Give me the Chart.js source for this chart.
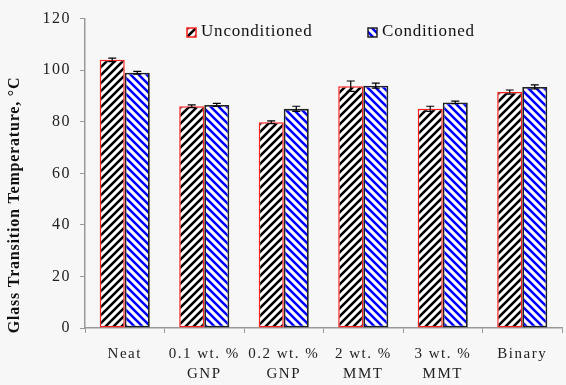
<!DOCTYPE html>
<html>
<head>
<meta charset="utf-8">
<script src="https://cdn.jsdelivr.net/npm/chart.js@4"></script>
<style>
  html, body { margin: 0; padding: 0; background: #f7f7f7; }
  #wrap { width: 566px; height: 385px; position: relative; }
</style>
</head>
<body>
<div id="wrap"><canvas id="tgChart"></canvas></div>
<script>
// Chart data
const categories = [['Neat'], ['0.1 wt. %', 'GNP'], ['0.2 wt. %', 'GNP'], ['2 wt. %', 'MMT'], ['3 wt. %', 'MMT'], ['Binary']];
const unconditioned = [104, 86, 79.8, 93.8, 85, 91.5];
const conditioned = [99, 86.5, 85, 94, 87.5, 93.5];
const unconditionedErr = [0.7, 0.5, 0.5, 2, 1, 0.8];
const conditionedErr = [0.5, 0.6, 1, 1, 0.5, 0.8];
const yTicks = [0, 20, 40, 60, 80, 100, 120];
const yTitle = 'Glass Transition Temperature, °C';

const serif = '"Liberation Serif", "Times New Roman", serif';

// Diagonal hatch pattern; dir 1 = "/", dir -1 = "\"
function makeHatch(color, dir) {
    const size = 8;
    const c = document.createElement('canvas');
    c.width = size; c.height = size;
    const g = c.getContext('2d');
    g.fillStyle = '#ffffff';
    g.fillRect(0, 0, size, size);
    g.strokeStyle = color;
    g.lineWidth = 2.6;
    g.beginPath();
    if (dir > 0) {
        g.moveTo(-2, size + 2); g.lineTo(size + 2, -2);
        g.moveTo(-2, 2); g.lineTo(2, -2);
        g.moveTo(size - 2, size + 2); g.lineTo(size + 2, size - 2);
    } else {
        g.moveTo(-2, -2); g.lineTo(size + 2, size + 2);
        g.moveTo(size - 2, -2); g.lineTo(size + 2, 2);
        g.moveTo(-2, size - 2); g.lineTo(2, size + 2);
    }
    g.stroke();
    return g.createPattern(c, 'repeat');
}

// wider glyph spacing like the original rendering
const spacingPlugin = {
    id: 'spacing',
    beforeUpdate(chart) { chart.ctx.letterSpacing = '1.5px'; },
    beforeDraw(chart) { chart.ctx.letterSpacing = '1.5px'; }
};

// Error bars drawn through the scales
const errorBarPlugin = {
    id: 'errorBars',
    afterDatasetsDraw(chart) {
        const ctx = chart.ctx;
        const y = chart.scales.y;
        const errs = [unconditionedErr, conditionedErr];
        ctx.save();
        ctx.strokeStyle = '#000';
        ctx.lineWidth = 1.2;
        chart.data.datasets.forEach((ds, di) => {
            const meta = chart.getDatasetMeta(di);
            meta.data.forEach((bar, i) => {
                const v = ds.data[i];
                const e = errs[di][i];
                const top = y.getPixelForValue(v + e);
                const bot = y.getPixelForValue(v - e);
                const x = bar.x;
                ctx.beginPath();
                ctx.moveTo(x, top); ctx.lineTo(x, bot);
                ctx.moveTo(x - 4, top); ctx.lineTo(x + 4, top);
                ctx.moveTo(x - 4, bot); ctx.lineTo(x + 4, bot);
                ctx.stroke();
            });
        });
        ctx.restore();
    }
};

// Legend inside the plot area + rotated y title (sits a bit below centre in the original)
const overlayPlugin = {
    id: 'overlay',
    afterDraw(chart) {
        const ctx = chart.ctx;
        const boxX = [187, 368];
        ctx.save();
        ctx.font = '17px ' + serif;
        ctx.letterSpacing = '0.8px';
        ctx.textBaseline = 'middle';
        chart.data.datasets.forEach((ds, i) => {
            const bx = boxX[i], by = 28;
            ctx.fillStyle = ds.backgroundColor;
            ctx.fillRect(bx, by, 9, 9);
            ctx.strokeStyle = ds.borderColor;
            ctx.lineWidth = 1.5;
            ctx.strokeRect(bx, by, 9, 9);
            ctx.fillStyle = '#111';
            ctx.fillText(ds.label, bx + 14, by + 4);
        });
        ctx.translate(15, 205);
        ctx.rotate(-Math.PI / 2);
        ctx.font = 'bold 16px ' + serif;
        ctx.textAlign = 'center';
        ctx.fillText(yTitle, 0, 0);
        ctx.restore();
    }
};

window.addEventListener('load', () => {
    const ctx = document.getElementById('tgChart').getContext('2d');
    new Chart(ctx, {
        type: 'bar',
        data: {
            labels: categories,
            datasets: [{
                label: 'Unconditioned',
                data: unconditioned,
                backgroundColor: makeHatch('#000000', 1),
                borderColor: '#ff2020',
                borderWidth: 1.5,
                borderSkipped: false
            }, {
                label: 'Conditioned',
                data: conditioned,
                backgroundColor: makeHatch('#0000ff', -1),
                borderColor: '#222222',
                borderWidth: 1.8,
                borderSkipped: false
            }]
        },
        options: {
            responsive: true,
            maintainAspectRatio: false,
            animation: false,
            devicePixelRatio: 1,
            layout: { padding: { top: 8, right: 4, left: 0, bottom: 0 } },
            datasets: { bar: { categoryPercentage: 0.63, barPercentage: 1.0 } },
            plugins: {
                legend: { display: false },
                tooltip: { enabled: false }
            },
            scales: {
                x: {
                    grid: { offset: true, drawOnChartArea: false, drawTicks: true, tickLength: 5, color: '#999' },
                    border: { color: '#999', width: 1.5 },
                    ticks: { color: '#222', font: { family: serif, size: 15, lineHeight: 1.34 }, padding: 11, maxRotation: 0, autoSkip: false },
                    afterFit: (s) => { s.height = 57; }
                },
                y: {
                    min: 0,
                    max: 120,
                    afterBuildTicks: (s) => { s.ticks = yTicks.map(v => ({ value: v })); },
                    grid: { drawOnChartArea: false, drawTicks: true, tickLength: 5, color: '#999' },
                    border: { color: '#999', width: 1.5 },
                    ticks: { color: '#222', font: { family: serif, size: 16 }, padding: 9 },
                    afterFit: (s) => { s.width = 85; }
                }
            }
        },
        plugins: [spacingPlugin, errorBarPlugin, overlayPlugin]
    });
});
</script>
</body>
</html>
